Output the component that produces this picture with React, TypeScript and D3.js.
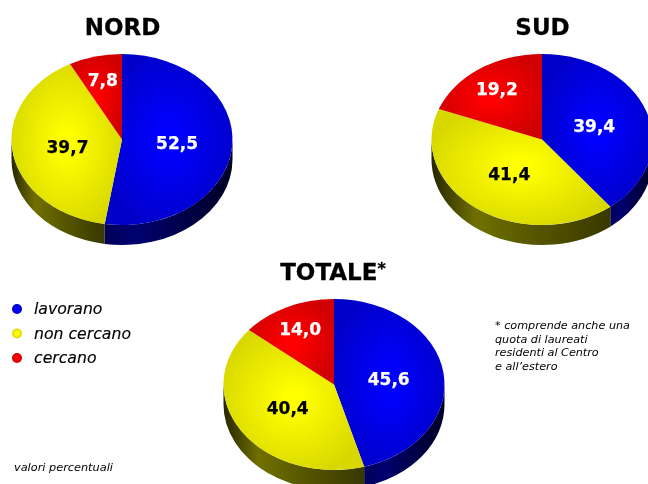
import React from "react";
import * as d3 from "d3";

const categories = ["lavorano", "non cercano", "cercano"];
const nordValues = [52.5, 39.7, 7.8];
const sudValues = [39.4, 41.4, 19.2];
const totaleValues = [45.6, 40.4, 14.0];
const footnoteLines = ["* comprende anche una", "quota di laureati", "residenti al Centro", "e all\u2019estero"];

const FONT = "'DejaVu Sans', Verdana, sans-serif";
const RX = 110.5;
const RY = 85.5;
const DEPTH = 20;

const palette = [
  { light: "#0000ff", dark: "#0000c8", wall: ["#000058", "#000070", "#000050", "#000024"], text: "#ffffff" },
  { light: "#ffff00", dark: "#d8d800", wall: ["#262600", "#707000", "#585800", "#383800"], text: "#000000" },
  { light: "#ff0000", dark: "#d00000", wall: ["#300000", "#700000", "#600000", "#300000"], text: "#ffffff" },
];

const pieGen = d3.pie<number>().sort(null).startAngle(0).endAngle(2 * Math.PI);

function Defs() {
  return (
    <defs>
      <filter id="soft" x="-5%" y="-5%" width="110%" height="110%">
        <feGaussianBlur stdDeviation="0.35" />
      </filter>
      {palette.map((p, i) => (
        <React.Fragment key={i}>
          <radialGradient id={`face${i}`} cx="50%" cy="50%" r="65%">
            <stop offset="0%" stopColor={p.light} />
            <stop offset="10%" stopColor={p.light} />
            <stop offset="85%" stopColor={p.dark} />
            <stop offset="100%" stopColor={p.dark} />
          </radialGradient>
          <linearGradient id={`wall${i}`} x1="0" x2="1" y1="0" y2="0">
            <stop offset="0%" stopColor={p.wall[0]} />
            <stop offset="25%" stopColor={p.wall[1]} />
            <stop offset="55%" stopColor={p.wall[2]} />
            <stop offset="100%" stopColor={p.wall[3]} />
          </linearGradient>
          <radialGradient id={`dot${i}`} cx="50%" cy="50%" r="50%">
            <stop offset="30%" stopColor={p.light} />
            <stop offset="100%" stopColor={p.dark} />
          </radialGradient>
        </React.Fragment>
      ))}
    </defs>
  );
}

function Pie3D({ values, cx, cy }: { values: number[]; cx: number; cy: number }) {
  const arcs = pieGen(values);
  const face = d3.arc<d3.PieArcDatum<number>>().innerRadius(0).outerRadius(RX);
  const pt = (a: number, dy = 0): [number, number] => [cx + RX * Math.sin(a), cy - RY * Math.cos(a) + dy];
  const fmt = d3.format(".1f");
  return (
    <g>
      {arcs.map((d, i) => {
        const a0 = Math.max(d.startAngle, Math.PI / 2);
        const a1 = Math.min(d.endAngle, (3 * Math.PI) / 2);
        if (a1 <= a0) return null;
        const [x0, y0] = pt(a0);
        const [x1, y1] = pt(a1);
        const large = a1 - a0 > Math.PI ? 1 : 0;
        const path = `M${x0},${y0}A${RX},${RY} 0 ${large} 1 ${x1},${y1}L${x1},${y1 + DEPTH}A${RX},${RY} 0 ${large} 0 ${x0},${y0 + DEPTH}Z`;
        return <path key={i} d={path} fill={`url(#wall${i})`} />;
      })}
      {arcs.map((d, i) => (
        <path
          key={i}
          d={face(d) as string}
          transform={`translate(${cx},${cy}) scale(1,${RY / RX})`}
          fill={`url(#face${i})`}
        />
      ))}
      {arcs.map((d, i) => {
        const k = i === 2 ? 0.72 : 0.5;
        const mid = (d.startAngle + d.endAngle) / 2;
        const [x, y] = [cx + k * RX * Math.sin(mid), cy - k * RY * Math.cos(mid)];
        return (
          <text
            key={i}
            x={x}
            y={y}
            dy="0.36em"
            textAnchor="middle"
            fontFamily={FONT}
            fontWeight="bold"
            fontSize={17}
            fill={palette[i].text}
            stroke={palette[i].text}
            strokeWidth={0.25}
            filter="url(#soft)"
          >
            {fmt(d.data).replace(".", ",")}
          </text>
        );
      })}
    </g>
  );
}

export default function App() {
  const titleProps = {
    textAnchor: "middle" as const,
    fontFamily: FONT,
    fontWeight: "bold",
    fontSize: 23,
    stroke: "#000",
    strokeWidth: 0.3,
    filter: "url(#soft)",
  };
  return (
    <svg
      width={648}
      height={484}
      viewBox="0 0 648 484"
      style={{ position: "absolute", left: 0, top: 0, background: "#fff" }}
    >
      <Defs />
      <text x={122.5} y={35} {...titleProps}>NORD</text>
      <text x={542.5} y={35} {...titleProps}>SUD</text>
      <text x={333} y={280} {...titleProps}>
        TOTALE<tspan fontSize={16} dy={-6}>*</tspan>
      </text>
      <Pie3D values={nordValues} cx={122} cy={139.5} />
      <Pie3D values={sudValues} cx={542} cy={139.5} />
      <Pie3D values={totaleValues} cx={334} cy={384.5} />
      {categories.map((c, i) => (
        <g key={c}>
          <circle cx={17} cy={309 + i * 24.5} r={5} fill={`url(#dot${i})`} />
          <text x={34} y={314 + i * 24.5} fontFamily={FONT} fontStyle="italic" fontSize={15.7} stroke="#000" strokeWidth={0.15} filter="url(#soft)">{c}</text>
        </g>
      ))}
      <text x={14} y={471} fontFamily={FONT} fontStyle="italic" fontSize={11.3} filter="url(#soft)">valori percentuali</text>
      {footnoteLines.map((l, i) => (
        <text key={l} x={495} y={329 + i * 13.6} fontFamily={FONT} fontStyle="italic" fontSize={11.2} filter="url(#soft)">{l}</text>
      ))}
    </svg>
  );
}
